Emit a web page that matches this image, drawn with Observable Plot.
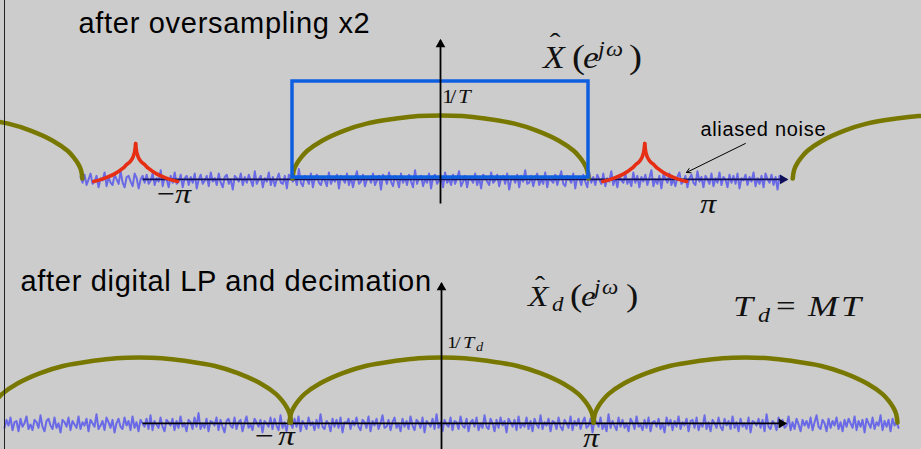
<!DOCTYPE html>
<html><head><meta charset="utf-8">
<script src="https://cdn.jsdelivr.net/npm/d3@7"></script>
<script src="https://cdn.jsdelivr.net/npm/@observablehq/plot@0.6"></script>
<style>
html,body{margin:0;padding:0;background:#cccccc;width:921px;height:449px;overflow:hidden;}
#wrap{position:relative;width:921px;height:449px;}
#border{position:absolute;left:4px;top:0;width:1px;height:449px;background:#222;}
#top,#bottom{position:absolute;left:0;width:921px;}
#top{top:0;height:225px} #bottom{top:225px;height:224px}
</style></head><body>
<div id="wrap"><div id="top"></div><div id="bottom"></div><div id="border"></div></div>
<script>
// ---------- shared shape profiles ----------
const arcProfileU = [-1,-0.99,-0.97,-0.94,-0.9,-0.8,-0.65,-0.5,-0.3,-0.15,0,0.15,0.3,0.5,0.65,0.8,0.9,0.94,0.97,0.99,1];
const arcProfileH = [0,0.14,0.24,0.34,0.44,0.6,0.76,0.87,0.95,0.99,1,0.99,0.95,0.87,0.76,0.6,0.44,0.34,0.24,0.14,0];
const cuspProfileU = [0,0.015,0.03,0.08,0.15,0.21,0.3,0.5,0.7,0.85,1];
const cuspProfileH = [1,0.85,0.75,0.6,0.5,0.45,0.35,0.2,0.1,0.04,0];

// ---------- top panel: after oversampling x2 (ω in units of π, amplitude in 1/T) ----------
const topArcCenters = [-1.71, 0, 1.69];
const topArcHalfWidth = 0.5;
const topArcHeight = 0.65;
const topBandEdges = [-0.5, 0.5];
const topBandLevel = [0.01, 1];
const topCuspCenters = [-1.03, 0.69];
const topCuspHalfWidth = 0.142;
const topCuspHeight = 0.39;
const topCuspBase = -0.03;
const topAxisExtent = [-1.007, 1.17];
const topVAxisExtent = [-0.258, 1.423];
const topNoiseExtent = [-1.216, 1.159];
const topNoise = [
3,-2,5,-4,1,6,-3,-1,4,-6,2,0,7,-5,3,-2,
-4,5,1,-3,8,-2,-6,3,4,-1,-5,6,2,-7,1,4,
-2,5,-3,0,6,-4,2,-1,9,-5,3,1,-6,4,-2,7,
-3,-1,5,-6,2,4,-4,3,-2,6,-7,1,5,-3,0,4,
-5,7,-1,2,-4,6,-2,-6,3,5,-3,1,-8,4,2,-1,
6,-4,3,-2,5,0,-5,8,-3,1,4,-6,2,-1,7,-4,
3,-5,1,6,-2,-3,4,-7,5,2,-1,3,-4,10,-2,-5,
4,1,-3,6,-6,2,5,-2,-4,3,0,-5,7,-3,2,-1,
5,-7,4,1,-2,6,-4,3,-6,2,8,-3,-1,5,-5,1,
3,-2,6,-4,0,4,-8,5,2,-3,7,-1,-5,4,1,-6,
6,-2,3,-4,5,-1,-6,9,-3,2,4,-5,1,-2,6,-7,
3,5,-3,0,4,-6,7,-2,1,-4,5,-3,2,8,-5,-1,
4,-6,3,1,-2,6,-4,2,-7,5,3,-1,-4,7,-2,0,
5,-5,2,4,-3,6,-8,1,3,-2,5,-6,4,-1,9,-3,
-2,4,-5,2,6,-4,1,-3,7,-6,3,0,-2,5,-4,2,
8,-3,-5,4,1,-2,6,-7,3,2,-4,5,-1,-6,7,-2,
3,-4,5,1,-3,6,-5,2,-1,8,-4,3,-6,4,0,-2,
6,-3,1,-5,7,-2,4,-6,3,-1,5,-4,2,9,-5,1,
-3,4,-7,5,2,-2,6,-4,1,-5,3,7,-3,-1,4,-6,
2,5,-2,-4,8,-1,3,-6,4,1,-3,6,-5,2,-2,7,
-4,3,1,-6,5,-2,4,-3,6,-7,2,0,5,-4,3,-1,
7,-5,2,-3,4,-6,6,1,-2,5,-4,3,-8,4,-1,2];
const topNoiseLevel = -0.02;
const topNoiseArrow = [{x1: 1.030, y1: 0.361, x2: 0.831, y2: 0.062}];

// ---------- bottom panel: after digital LP and decimation (ω in units of π, amplitude in 1/T) ----------
const botArcCenters = [-1.99, 0, 2.0];
const botArcHalfWidth = 1.0;
const botArcHeight = 0.67;
const botAxisExtent = [-1.967, 2.263];
const botVAxisExtent = [-0.3, 1.433];
const botNoiseExtent = [-2.875, 3.007];
const botNoise = [
-3,4,-1,6,-5,2,3,-6,5,-2,1,7,-4,0,-5,4,
2,-3,8,-2,-6,3,5,-1,-4,6,-3,1,-7,4,2,-2,
6,-5,3,0,-3,7,-4,2,-1,5,-6,4,1,-2,9,-4,
-1,3,-5,6,2,-3,4,-7,1,5,-2,-4,6,-1,3,-5,
7,-3,2,-6,4,1,-2,5,-4,8,-5,3,0,-3,6,-2,
-6,4,2,-1,5,-5,3,-3,7,-2,1,-6,4,2,-4,6,
-2,10,-4,1,-3,5,-6,3,2,-1,6,-5,4,-2,-7,3,
5,-1,-3,6,-4,2,4,-6,1,7,-3,0,-5,5,2,-2,
4,-7,3,1,-2,6,-4,5,-1,-5,8,-3,2,-6,4,1,
-3,5,-2,7,-6,3,0,-4,6,-1,2,-5,4,-3,9,-2,
-4,3,1,-6,5,-2,4,-3,6,-7,2,1,5,-4,3,-1,
6,-2,-5,4,2,-3,7,-6,3,-1,5,-4,1,8,-3,-2,
4,-5,2,6,-3,1,-6,5,-2,3,-4,7,-1,-5,4,2,
-3,6,-7,3,1,-2,5,-4,9,-3,2,-6,4,0,-2,6,
-5,3,2,-4,7,-1,-3,5,-6,2,4,-2,6,-5,1,-3,
8,-2,-4,5,1,-6,4,-3,6,-1,3,-7,5,2,-2,4,
-5,7,-3,1,-2,6,-4,3,-6,5,0,-3,8,-4,2,-1,
5,-6,3,2,-4,6,-2,-5,4,1,-3,7,-5,3,-1,5,
-4,2,6,-3,-1,5,-7,4,2,-2,6,-4,1,-6,9,-3,
3,-1,-5,6,-2,4,-3,1,-6,5,2,-4,7,-2,0,-5,
4,-3,6,-6,2,3,-2,5,-4,1,-7,6,-1,4,-5,3,
-2,7,-4,2,-1,5,-6,3,4,-3,6,-5,1,-2,8,-4,
2,-6,4,1,-3,6,-2,-5,5,-1,3,-4,7,-3,2,-6,
5,-2,1,-4,6,-7,3,2,-1,5,-3,4,-6,9,-2,-4,
3,1,-5,6,-2,4,-3,-1,7,-5,2,-4,5,0,-6,4,
-1,3,-3,6,-5,2,8,-2,-4,4,1,-6,5,-3,3,-1,
6,-4,2,-6,4,-2,5,1,-3,7,-5,3,-2,4,-7,5,
1,-3,6,-4,2,-1,8,-5,3,-2,4,-6,5,-1,2,-3];
const botNoiseLevel = -0.02;
const noiseUnit = 85; // noise samples are listed in 1/85 of the 1/T level

// ---------- colours ----------
const OLIVE = "#787800", BLUE = "#0e5fe0", RED = "#e62e14", NOISE = "#6a6ae6";

// ---------- builders ----------
function arcRows(centers, halfW, height) {
  return centers.flatMap((c, k) => arcProfileU.map((u, i) => ({x: c + u * halfW, y: arcProfileH[i] * height, k})));
}
function cuspRows(centers, halfW, height, base) {
  const rows = [];
  centers.forEach((c, k) => {
    for (const side of [-1, 1]) cuspProfileU.forEach((u, i) =>
      rows.push({x: c + side * u * halfW, y: base + cuspProfileH[i] * height, k: k * 2 + (side > 0 ? 1 : 0)}));
  });
  return rows;
}
function noiseRows(vals, ext, level) {
  const n = vals.length;
  return vals.map((v, i) => ({x: ext[0] + (ext[1] - ext[0]) * i / (n - 1), y: level + v / noiseUnit}));
}
function axisMarks(hExt, hStroke) {
  return [
    Plot.link([{x1: hExt[0], x2: hExt[1], y: -0.01}], {x1: "x1", x2: "x2", y1: "y", y2: "y", stroke: hStroke, strokeWidth: 1.8}),
    Plot.dot([{x: hExt[1], y: -0.01}], {x: "x", y: "y", symbol: "triangle", r: 3.6, fill: hStroke, stroke: "none", rotate: 90, dx: -4}),
  ];
}
function vAxisMarks(vExt) {
  return [
    Plot.link([{x: 0, y1: vExt[0], y2: vExt[1]}], {x1: "x", x2: "x", y1: "y1", y2: "y2", stroke: "black", strokeWidth: 1.8}),
    Plot.dot([{x: 0, y: vExt[1]}], {x: "x", y: "y", symbol: "triangle", r: 3.6, fill: "black", stroke: "none", dy: 4}),
  ];
}
function sansLabel(rows, size) {
  return Plot.text(rows, {x: "x", y: "y", text: "text", textAnchor: "start", lineAnchor: "bottom",
    fontSize: size, fontFamily: "Liberation Sans, Arial, sans-serif", fill: "black"});
}
// math-style label: each glyph is its own text, placed from the label anchor (data coords) and widened like TeX glyphs
function mathLabel(plot, x0, y0, sx, parts) {
  const X = plot.scale("x").apply(x0), Y = plot.scale("y").apply(y0);
  const g = d3.select(plot).append("g")
    .attr("font-family", "Liberation Serif, Times New Roman, serif").attr("fill", "#111");
  for (const p of parts) {
    g.append("text")
      .attr("transform", `translate(${X + p.dx},${Y + (p.dy || 0)}) scale(${sx},1)`)
      .attr("text-anchor", p.mid ? "middle" : "start")
      .attr("font-size", p.size).attr("font-style", p.it ? "italic" : "normal").text(p.t);
  }
}

// ---------- top plot ----------
const topPlot = Plot.plot({
  width: 921, height: 225, margin: 0,
  x: {domain: [-440 / 296, 481 / 296], axis: null},
  y: {domain: [-47 / 97, 178 / 97], axis: null},
  style: {background: "transparent", overflow: "hidden"},
  marks: [
    Plot.line(noiseRows(topNoise, topNoiseExtent, topNoiseLevel), {x: "x", y: "y", stroke: NOISE, strokeWidth: 2}),
    ...axisMarks(topAxisExtent, "#10105a"),
    Plot.line(arcRows(topArcCenters, topArcHalfWidth, topArcHeight), {x: "x", y: "y", z: "k", stroke: OLIVE, strokeWidth: 4.5, curve: "catmull-rom"}),
    Plot.rect([{x1: topBandEdges[0], x2: topBandEdges[1], y1: topBandLevel[0], y2: topBandLevel[1]}],
      {x1: "x1", x2: "x2", y1: "y1", y2: "y2", fill: "none", stroke: BLUE, strokeWidth: 3.5}),
    Plot.line(cuspRows(topCuspCenters, topCuspHalfWidth, topCuspHeight, topCuspBase), {x: "x", y: "y", z: "k", stroke: RED, strokeWidth: 3.6, curve: "catmull-rom"}),
    ...vAxisMarks(topVAxisExtent),
    Plot.arrow(topNoiseArrow, {x1: "x1", y1: "y1", x2: "x2", y2: "y2", stroke: "black", strokeWidth: 1, headLength: 7}),
    sansLabel([{x: -1.223, y: 1.495, text: "after oversampling x2"}], 29),
    sansLabel([{x: 0.878, y: 0.433, text: "aliased noise"}], 20),
  ]
});
document.getElementById("top").appendChild(topPlot);
mathLabel(topPlot, 0.348, 1.134, 1.15, [
  {t: "X", dx: 0, size: 31, it: true},
  {t: "ˆ", dx: 12, dy: -16, size: 28, mid: true},
  {t: "(", dx: 29, size: 34},
  {t: "e", dx: 40, size: 31, it: true},
  {t: "j", dx: 55, dy: -12, size: 21, it: true},
  {t: "ω", dx: 63, dy: -12, size: 21, it: true},
  {t: ")", dx: 86, size: 34}
]);
mathLabel(topPlot, 0.0068, 0.773, 1.2, [
  {t: "1", dx: 0, size: 19}, {t: "/", dx: 8, size: 19}, {t: "T", dx: 16, size: 19, it: true}
]);
mathLabel(topPlot, -0.956, -0.258, 1.15, [
  {t: "−", dx: 0, size: 28}, {t: "π", dx: 18, size: 28, it: true}
]);
mathLabel(topPlot, 0.878, -0.361, 1.15, [{t: "π", dx: 0, size: 28, it: true}]);

// ---------- bottom plot ----------
const botPlot = Plot.plot({
  width: 921, height: 224, margin: 0,
  x: {domain: [-441 / 152, 480 / 152], axis: null},
  y: {domain: [-27 / 97, 197 / 97], axis: null},
  style: {background: "transparent", overflow: "hidden"},
  marks: [
    Plot.line(noiseRows(botNoise, botNoiseExtent, botNoiseLevel), {x: "x", y: "y", stroke: NOISE, strokeWidth: 2}),
    ...axisMarks(botAxisExtent, "black"),
    Plot.line(arcRows(botArcCenters, botArcHalfWidth, botArcHeight), {x: "x", y: "y", z: "k", stroke: OLIVE, strokeWidth: 4.5, curve: "catmull-rom"}),
    ...vAxisMarks(botVAxisExtent),
    sansLabel([{x: -2.770, y: 1.351, text: "after digital LP and decimation"}], 29),
  ]
});
document.getElementById("bottom").appendChild(botPlot);
mathLabel(botPlot, 0.572, 1.196, 1.15, [
  {t: "X", dx: 0, size: 29, it: true},
  {t: "ˆ", dx: 12, dy: -12, size: 26, mid: true},
  {t: "d", dx: 24, dy: 5, size: 20, it: true},
  {t: "(", dx: 42, size: 32},
  {t: "e", dx: 53, size: 29, it: true},
  {t: "j", dx: 66, dy: -12, size: 20, it: true},
  {t: "ω", dx: 74, dy: -12, size: 20, it: true},
  {t: ")", dx: 98, size: 32}
]);
mathLabel(botPlot, 1.921, 1.093, 1.2, [
  {t: "T", dx: 0, size: 30, it: true},
  {t: "d", dx: 25, dy: 6, size: 20, it: true},
  {t: "=", dx: 43, size: 29},
  {t: "M", dx: 75, size: 30, it: true},
  {t: "T", dx: 108, size: 30, it: true}
]);
mathLabel(botPlot, 0.039, 0.763, 1.2, [
  {t: "1", dx: 0, size: 17}, {t: "/", dx: 8, size: 17}, {t: "T", dx: 16, size: 17, it: true},
  {t: "d", dx: 29, dy: 3, size: 12, it: true}
]);
mathLabel(botPlot, -1.224, -0.237, 1.2, [
  {t: "−", dx: 0, size: 28}, {t: "π", dx: 23, size: 28, it: true}
]);
mathLabel(botPlot, 0.934, -0.258, 1.15, [{t: "π", dx: 0, size: 28, it: true}]);

// slight tracking on sans labels (original text is a little wider than Arial metrics)
d3.selectAll("svg g[aria-label='text'] text").attr("letter-spacing", "0.7px");
</script>
</body></html>
